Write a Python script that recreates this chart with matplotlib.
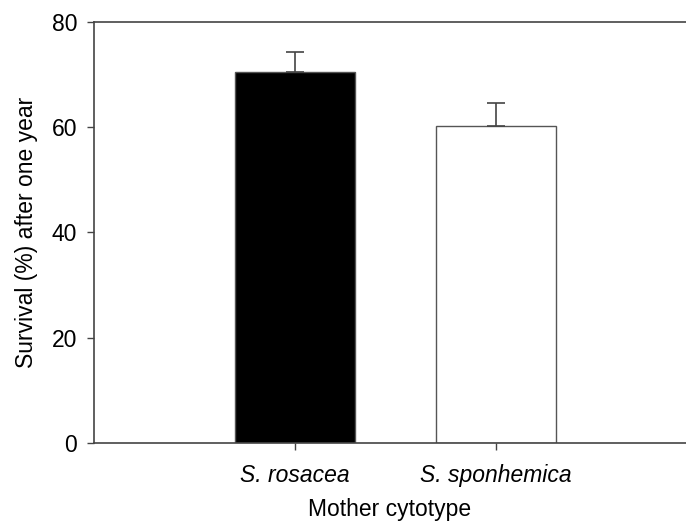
import matplotlib
matplotlib.use('Agg')
import matplotlib.pyplot as plt

# data
cytotypes = ['S. rosacea', 'S. sponhemica']
survival = [70.5, 60.2]
survival_se = [3.7, 4.3]
bar_colors = ['black', 'white']
y_ticks = [0, 20, 40, 60, 80]

plt.rcParams['font.family'] = ['Liberation Sans', 'DejaVu Sans']

fig = plt.figure(figsize=(6.86, 5.21), dpi=100)
ax = fig.add_axes([0.137, 0.15, 0.863, 0.8083])

x = [1, 2]
ax.bar(x, survival, width=0.6, color=bar_colors, edgecolor='#555555', linewidth=1.0, zorder=2)
ax.errorbar(x, survival, yerr=[[0, 0], survival_se], fmt='none', ecolor='#444444',
            elinewidth=1.2, capsize=6.5, capthick=1.2, zorder=3)

ax.set_xlim(0, 2.945)
ax.set_ylim(0, 80)
ax.set_yticks(y_ticks)
ax.set_xticks(x)
ax.set_xticklabels(cytotypes, fontstyle='italic')

for s in ['left', 'top', 'bottom']:
    ax.spines[s].set_color('#444444')
    ax.spines[s].set_linewidth(1.2)
ax.spines['right'].set_visible(False)

ax.tick_params(axis='both', direction='out', length=5, width=1.0, color='#444444',
               labelsize=16.5)
ax.tick_params(axis='y', pad=7)
ax.tick_params(axis='x', pad=10)

ax.set_xlabel('Mother cytotype', fontsize=16.5, labelpad=8)
ax.set_ylabel('Survival (%) after one year', fontsize=16.5, labelpad=10)

fig.savefig('out.png', dpi=100)
